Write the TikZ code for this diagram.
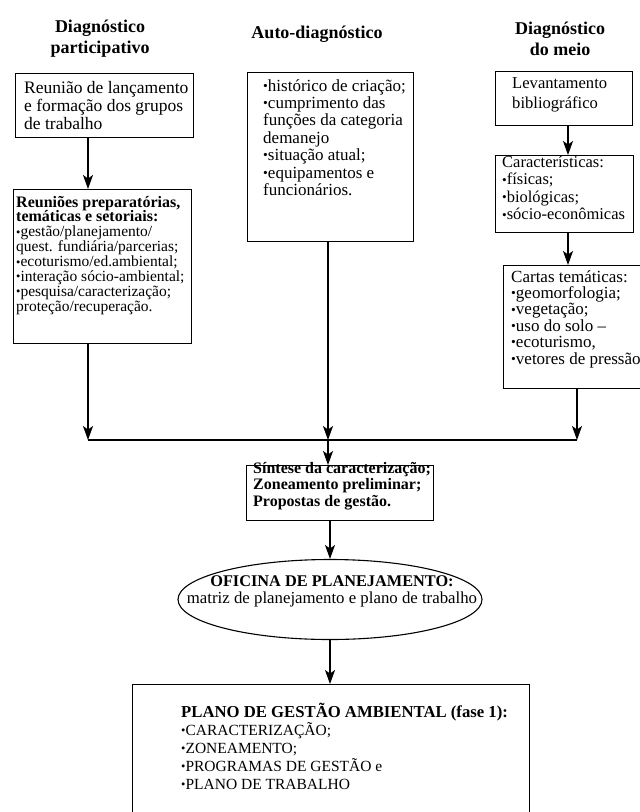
\documentclass[tikz,border=0pt]{standalone}
\usepackage{fontspec}
\setmainfont{Liberation Serif}
\usepackage{graphicx}
\usetikzlibrary{arrows.meta,shapes.geometric}
\newcommand{\bu}{\raisebox{0.08ex}{\scalebox{0.8}{\textbullet}}}
\newcommand{\fs}[2]{\fontsize{#1}{#2}\selectfont}
\begin{document}
\begin{tikzpicture}[x=1pt,y=-1pt,
  box/.style={draw, line width=1.1pt, inner sep=0pt, anchor=north west},
  arr/.style={line width=1.3pt, -{Stealth[length=14pt,width=10pt,inset=3.5pt]}},
  conn/.style={line width=1.3pt},
  txt/.style={anchor=base west, inner sep=0pt, align=left},
  head/.style={anchor=base, inner sep=0pt, align=center, font=\bfseries\fs{18}{21.5}},
]
\useasboundingbox (0,0) rectangle (640,812);
\fill[white] (0,0) rectangle (640,812);

% headers (anchor = baseline of last line)
\node[head] (h1) at (100,53.5) {Diagnóstico\\participativo};
\node[head] (h2) at (317,38) {Auto-diagnóstico};
\node[head] (h3) at (560,55.5) {Diagnóstico\\do meio};

% boxes
\begin{scope}
\clip (0,0) rectangle (640,812);
\node[box, minimum width=178pt, minimum height=64pt] (b1) at (15,73) {};
\node[box, minimum width=178pt, minimum height=154pt] (b2) at (13,189) {};
\node[box, minimum width=166pt, minimum height=169pt] (ba) at (247,72) {};
\node[box, minimum width=137pt, minimum height=54pt] (bl) at (495,71) {};
\node[box, minimum width=138pt, minimum height=77pt] (bc) at (495,155) {};
\node[box, minimum width=140pt, minimum height=123pt] (bt) at (503,265) {};
\node[box, minimum width=187pt, minimum height=55pt] (bs) at (246,465) {};
\node[draw, line width=1.1pt, ellipse, minimum width=304pt, minimum height=80pt, inner sep=0pt] (el) at (330,599.5) {};
\node[box, minimum width=397pt, minimum height=150pt] (bp) at (132,684) {};
\end{scope}

% texts (anchor = baseline of last line)
\node[txt, font=\fs{17.5}{18}] (t1) at (24,129) {Reunião de lançamento\\e formação dos grupos\\de trabalho};
\node[txt, font=\fs{15.5}{14.9}] (t2) at (16,311.3) {{\bfseries\fs{16}{14.9}Reuniões preparatórias,}\\
  {\bfseries\fs{16}{14.9}temáticas e setoriais:}\\
  \bu gestão/planejamento/\\
  quest. fundiária/parcerias;\\
  \bu ecoturismo/ed.ambiental;\\
  \bu interação sócio-ambiental;\\
  \bu pesquisa/caracterização;\\
  proteção/recuperação.};
\node[txt, font=\fs{17}{17.4}] (ta) at (263,195.4) {\bu histórico de criação;\\\bu cumprimento das\\funções da categoria\\demanejo\\\bu situação atual;\\\bu equipamentos e\\funcionários.};
\node[txt, font=\fs{16.6}{20}] (tl) at (512,108) {Levantamento\\bibliográfico};
\node[txt, font=\fs{16.5}{17.6}] (tc) at (502,219.8) {Características:\\\bu físicas;\\\bu biológicas;\\\bu sócio-econômicas};
\node[txt, font=\fs{17}{16.4}] (tt) at (511,364) {Cartas temáticas:\\\bu geomorfologia;\\\bu vegetação;\\\bu uso do solo --\\\bu ecoturismo,\\\bu vetores de pressão};
\node[txt, font=\bfseries\fs{16}{16.5}] (ts) at (253,506) {Síntese da caracterização;\\Zoneamento preliminar;\\Propostas de gestão.};
\node[anchor=base, inner sep=0pt, align=center, font=\fs{16.8}{17}] (te) at (332,603) {{\bfseries\fs{16.3}{17}OFICINA DE PLANEJAMENTO:}\\matriz de planejamento e plano de trabalho};
\node[txt, font=\fs{15.5}{18}] (tp) at (181,789) {{\bfseries\fs{16.7}{18}PLANO DE GESTÃO AMBIENTAL (fase 1):}\\
  \bu CARACTERIZAÇÃO;\\
  \bu ZONEAMENTO;\\
  \bu PROGRAMAS DE GESTÃO e\\
  \bu PLANO DE TRABALHO};

% connectors
\coordinate (x1) at (88,0);
\coordinate (x3) at (568,0);
\coordinate (jl) at (88,440);
\coordinate (jc) at (328,440);
\coordinate (jr) at (577,440);
\draw[arr] (b1.south -| x1) -- (b2.north -| x1);
\draw[arr] (bl.south -| x3) -- (bc.north -| x3);
\draw[arr] (bc.south -| x3) -- (bt.north -| x3);
\draw[arr] (b2.south -| jl) -- (jl);
\draw[arr] (ba.south -| jc) -- (jc);
\draw[arr] (bt.south -| jr) -- (jr);
\draw[conn] (jl) -- (jr);
\draw[arr] (jc) -- (bs.north -| jc);
\draw[arr] (bs.south -| el.north) -- (el.north);
\draw[arr] (el.south) -- (bp.north -| el.south);
\end{tikzpicture}
\end{document}
